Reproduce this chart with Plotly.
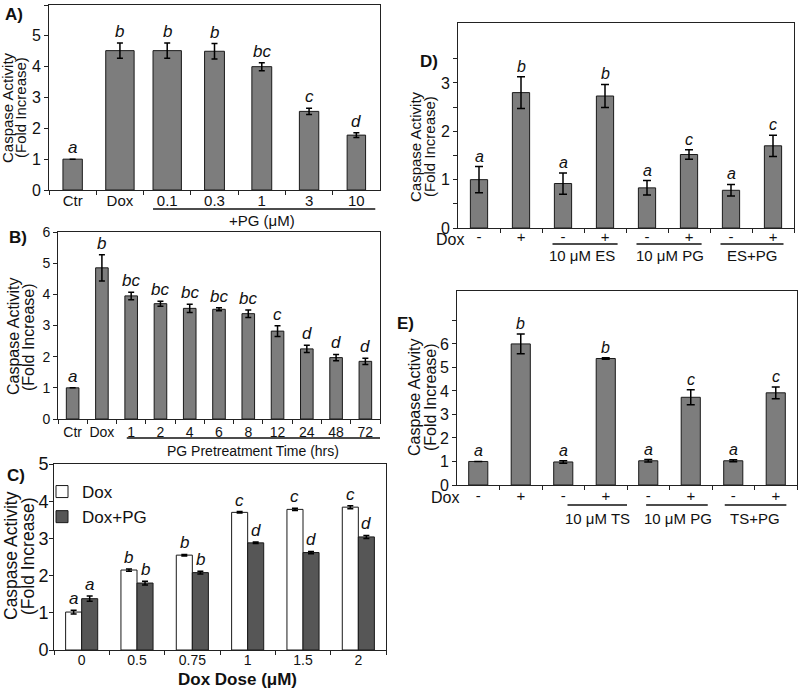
import plotly.graph_objects as go

W, H = 800, 688
FONT = "Liberation Sans, Arial, sans-serif"

# ---------------- data ----------------
# Panel A: PG concentration
a_cats = ["Ctr", "Dox", "0.1", "0.3", "1", "3", "10"]
a_vals = [1.00, 4.52, 4.52, 4.50, 4.00, 2.55, 1.78]
a_err = [0.00, 0.25, 0.25, 0.25, 0.13, 0.10, 0.08]
a_letters = ["a", "b", "b", "b", "bc", "c", "d"]

# Panel B: PG pretreatment time
b_cats = ["Ctr", "Dox", "1", "2", "4", "6", "8", "12", "24", "48", "72"]
b_vals = [1.00, 4.85, 3.95, 3.70, 3.55, 3.52, 3.38, 2.82, 2.25, 1.97, 1.85]
b_err = [0.00, 0.42, 0.12, 0.08, 0.13, 0.05, 0.12, 0.17, 0.12, 0.10, 0.10]
b_letters = ["a", "b", "bc", "bc", "bc", "bc", "bc", "c", "d", "d", "d"]

# Panel C: Dox dose
c_cats = ["0", "0.5", "0.75", "1", "1.5", "2"]
c_dox = [1.02, 2.15, 2.55, 3.70, 3.78, 3.84]
c_dox_err = [0.05, 0.03, 0.02, 0.02, 0.03, 0.04]
c_dox_letters = ["a", "b", "b", "c", "c", "c"]
c_pg = [1.38, 1.80, 2.08, 2.88, 2.62, 3.04]
c_pg_err = [0.07, 0.05, 0.04, 0.02, 0.03, 0.04]
c_pg_letters = ["a", "b", "b", "d", "d", "d"]

# Panel D: ES / PG
d_signs = ["-", "+", "-", "+", "-", "+", "-", "+"]
d_vals = [1.00, 2.80, 0.92, 2.73, 0.83, 1.52, 0.78, 1.70]
d_err = [0.27, 0.33, 0.22, 0.24, 0.15, 0.10, 0.12, 0.22]
d_letters = ["a", "b", "a", "b", "a", "c", "a", "c"]
d_groups = ["10 μM ES", "10 μM PG", "ES+PG"]

# Panel E: TS / PG
e_signs = ["-", "+", "-", "+", "-", "+", "-", "+"]
e_vals = [1.00, 6.00, 0.98, 5.38, 1.03, 3.73, 1.03, 3.92]
e_err = [0.00, 0.42, 0.05, 0.03, 0.05, 0.32, 0.04, 0.25]
e_letters = ["a", "b", "a", "b", "a", "c", "a", "c"]
e_groups = ["10 μM TS", "10 μM PG", "TS+PG"]

# ---------------- helpers ----------------
def px(x):
    return x / W


def py(y):
    return 1 - y / H


GRAY = "#7d7d7d"
DARK = "#565656"
EDGE = "#1a1a1a"


def err(vals, w=3):
    return dict(type="data", array=vals, visible=True, color="#000", thickness=1.5, width=w)


fig = go.Figure()

# A
fig.add_trace(go.Bar(x=a_cats, y=a_vals, error_y=err(a_err), width=[0.41, 0.6, 0.6, 0.42, 0.42, 0.41, 0.39],
                     marker=dict(color=GRAY, line=dict(color=EDGE, width=1)), xaxis="x", yaxis="y",
                     showlegend=False))
# B
fig.add_trace(go.Bar(x=b_cats, y=b_vals, error_y=err(b_err), width=0.43,
                     marker=dict(color=GRAY, line=dict(color=EDGE, width=1)), xaxis="x2", yaxis="y2",
                     showlegend=False))
# C
fig.add_trace(go.Bar(x=c_cats, y=c_dox, error_y=err(c_dox_err), width=0.29, offset=-0.29, name="Dox",
                     marker=dict(color="white", line=dict(color=EDGE, width=1)), xaxis="x3", yaxis="y3"))
fig.add_trace(go.Bar(x=c_cats, y=c_pg, error_y=err(c_pg_err), width=0.29, offset=0.0, name="Dox+PG",
                     marker=dict(color=DARK, line=dict(color=EDGE, width=1)), xaxis="x3", yaxis="y3"))
# D
fig.add_trace(go.Bar(x=list(range(len(d_vals))), y=d_vals, error_y=err(d_err, 4), width=0.41,
                     marker=dict(color=GRAY, line=dict(color=EDGE, width=1)), xaxis="x4", yaxis="y4",
                     showlegend=False))
# E
fig.add_trace(go.Bar(x=list(range(len(e_vals))), y=e_vals, error_y=err(e_err, 4), width=0.45,
                     marker=dict(color=GRAY, line=dict(color=EDGE, width=1)), xaxis="x5", yaxis="y5",
                     showlegend=False))


def tf(size):
    return dict(size=size, color="#111", family=FONT)


def base_axis(**kw):
    d = dict(showline=True, linecolor="#222", linewidth=1, mirror=True, showgrid=False, zeroline=False,
             ticks="outside", ticklen=4, tickcolor="#222", tickfont=tf(14), automargin=False,
             fixedrange=True)
    d.update(kw)
    return d


layout = dict(
    width=W, height=H, margin=dict(l=0, r=0, t=0, b=0, autoexpand=False),
    paper_bgcolor="white", plot_bgcolor="white",
    barmode="overlay",
    font=dict(family=FONT, color="#111"),
    legend=dict(x=px(42), y=py(474), xanchor="left", yanchor="top", bgcolor="rgba(0,0,0,0)",
                font=tf(17), itemwidth=30, tracegroupgap=0),
    # A
    xaxis=base_axis(domain=[px(49), px(380)], anchor="y", type="category", tickson="boundaries",
                    range=[-0.5, 6.5], tickangle=0, ticklabelstandoff=-3, tickfont=tf(15)),
    yaxis=base_axis(domain=[py(190), py(5)], anchor="x", range=[0, 6], dtick=1, tickfont=tf(16)),
    # B
    xaxis2=base_axis(domain=[px(58), px(380)], anchor="y2", type="category", tickson="boundaries",
                     range=[-0.5, 10.5], tickangle=0, tickfont=tf(14)),
    yaxis2=base_axis(domain=[py(419), py(232)], anchor="x2", range=[0, 6], dtick=1, tickfont=tf(14)),
    # C
    xaxis3=base_axis(domain=[px(54), px(386)], anchor="y3", type="category", tickson="boundaries",
                     range=[-0.5, 5.5], tickangle=0, ticklabelstandoff=-3, tickfont=tf(14)),
    yaxis3=base_axis(domain=[py(650), py(464)], anchor="x3", range=[0, 5], dtick=1, tickfont=tf(18),
                     ticklabelstandoff=-3),
    # D
    xaxis4=base_axis(domain=[px(458), px(794)], anchor="y4", range=[-0.5, 7.5], ticks="",
                     tickvals=list(range(len(d_signs))), ticktext=d_signs, tickangle=0,
                     ticklabelstandoff=-5, tickfont=tf(15),
                     minor=dict(tickvals=[i + 0.5 for i in range(len(d_signs))], ticks="outside", ticklen=4,
                                tickcolor="#222")),
    yaxis4=base_axis(domain=[py(228), py(23)], anchor="x4", range=[0, 4.24],
                     tickvals=[0, 0.5, 1, 1.5, 2, 2.5, 3, 3.5],
                     ticktext=["0", "", "1", "", "2", "", "3", ""], tickfont=tf(16)),
    # E
    xaxis5=base_axis(domain=[px(457), px(797)], anchor="y5", range=[-0.5, 7.5], ticks="",
                     tickvals=list(range(len(e_signs))), ticktext=e_signs, tickangle=0,
                     ticklabelstandoff=-3, tickfont=tf(15),
                     minor=dict(tickvals=[i + 0.5 for i in range(len(e_signs))], ticks="outside", ticklen=4,
                                tickcolor="#222")),
    yaxis5=base_axis(domain=[py(485), py(291)], anchor="x5", range=[0, 8.25],
                     tickvals=[0, 1, 2, 3, 4, 5, 6, 7],
                     ticktext=["0", "1", "2", "3", "4", "5", "6", ""], tickfont=tf(16)),
)
fig.update_layout(**layout)

ann = []
shapes = []


def letter(xa, ya, x, y, t, size=17):
    ann.append(dict(x=x, y=y, xref=xa, yref=ya, text="<i>%s</i>" % t, showarrow=False, yanchor="bottom",
                    yshift=0, font=tf(size)))


for i, (v, e, t) in enumerate(zip(a_vals, a_err, a_letters)):
    letter("x", "y", i, v + e, t)
for i, (v, e, t) in enumerate(zip(b_vals, b_err, b_letters)):
    letter("x2", "y2", i, v + e, t)
for i, (v, e, t) in enumerate(zip(c_dox, c_dox_err, c_dox_letters)):
    letter("x3", "y3", i - 0.145, v + e, t)
for i, (v, e, t) in enumerate(zip(c_pg, c_pg_err, c_pg_letters)):
    letter("x3", "y3", i + 0.145, v + e, t)
for i, (v, e, t) in enumerate(zip(d_vals, d_err, d_letters)):
    letter("x4", "y4", i, v + e, t, 16)
for i, (v, e, t) in enumerate(zip(e_vals, e_err, e_letters)):
    letter("x5", "y5", i, v + e, t, 16)


def ptext(x, y, t, size=14, xanchor="center", bold=False, angle=0, xref="paper"):
    ann.append(dict(x=x if xref != "paper" else px(x), y=py(y), xref=xref, yref="paper",
                    text=("<b>%s</b>" % t) if bold else t, showarrow=False, xanchor=xanchor,
                    yanchor="middle", textangle=angle, font=tf(size)))


def uline(xref, x0, x1, y):
    shapes.append(dict(type="line", xref=xref, yref="paper", x0=x0, x1=x1, y0=py(y), y1=py(y),
                       line=dict(color="#111", width=1.5)))


# panel labels
ptext(14, 14, "A)", 17, bold=True)
ptext(18, 237, "B)", 17, bold=True)
ptext(16, 475, "C)", 17, bold=True)
ptext(429, 62, "D)", 17, bold=True)
ptext(405, 323, "E)", 17, bold=True)

# y-axis titles (two lines)
for (x1, x2, yc, fs) in [(7, 20, 108, 15), (13, 28, 337, 16), (11, 28, 556, 17.5), (415, 429, 147, 15),
                         (414, 430, 397, 16)]:
    ptext(x1, yc, "Caspase Activity", fs, angle=-90)
    ptext(x2, yc, "(Fold Increase)", fs, angle=-90)

# A group label
uline("x", 1.7, 6.4, 209)
ptext(4.0, 220, "+PG (μM)", 15, xref="x")
# B group label
uline("x2", 1.85, 10.5, 438)
ptext(6.15, 451, "PG Pretreatment Time (hrs)", 14, xref="x2")
# C axis title
ptext(237, 679, "Dox Dose (μM)", 17, bold=True)

# D labels
ptext(466, 239, "Dox", 16, xanchor="right")
for (x0, x1), lab, xc in zip([(1.75, 3.3), (3.75, 5.3), (5.75, 7.25)], d_groups, [2.45, 4.55, 6.5]):
    uline("x4", x0, x1, 244)
    ptext(xc, 255, lab, 15, xref="x4")

# E labels
ptext(461, 498, "Dox", 16, xanchor="right")
for (x0, x1), lab, xc in zip([(2.1, 3.5), (3.95, 5.4), (5.8, 7.25)], e_groups, [2.8, 4.7, 6.5]):
    uline("x5", x0, x1, 505)
    ptext(xc, 518, lab, 15, xref="x5")

fig.update_layout(annotations=ann, shapes=shapes)
fig.write_html("out.html", config={"displayModeBar": False},
               post_script="document.body.style.margin='0';document.body.style.padding='0';"
                           "document.documentElement.style.overflow='hidden';")
